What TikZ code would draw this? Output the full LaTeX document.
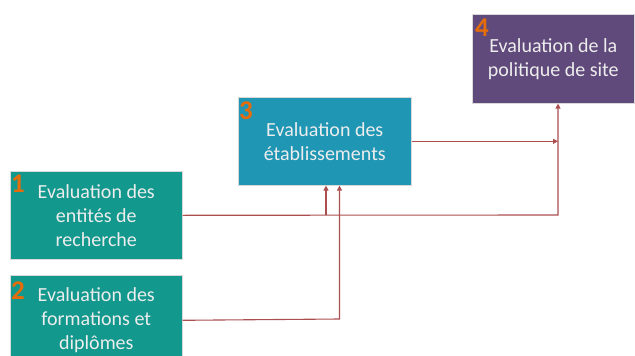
\documentclass[tikz,border=0pt]{standalone}
\usepackage{fontspec}
\setmainfont{Carlito}
\usetikzlibrary{arrows.meta}
\definecolor{tealbox}{RGB}{18,152,141}
\definecolor{bluebox}{RGB}{31,150,180}
\definecolor{purplebox}{RGB}{96,74,123}
\definecolor{numorange}{RGB}{228,108,10}
\definecolor{connred}{RGB}{170,78,78}
\begin{document}
\begin{tikzpicture}[x=1pt,y=-1pt,
  box/.style={draw=white!85!black, line width=0.6pt, anchor=north west, inner sep=0pt,
    text=white!93!black, font=\fontsize{20}{24}\selectfont, align=center},
  num/.style={anchor=base west, inner sep=0pt, text=numorange,
    font=\fontsize{27}{27}\selectfont\bfseries},
  conn/.style={draw=connred, line width=1.1pt},
  arr/.style={conn, -{Triangle[length=5pt,width=5pt]}}]
\useasboundingbox (0,0) rectangle (635,356);
\node[box, fill=tealbox, minimum width=172pt, minimum height=88pt] (b1) at (10,171) {Evaluation des\\entités de\\recherche};
\node[box, fill=tealbox, minimum width=172pt, minimum height=90pt] (b2) at (10,275) {Evaluation des\\formations et\\diplômes};
\node[box, fill=bluebox, minimum width=173pt, minimum height=88pt] (b3) at (238,97) {Evaluation des\\établissements};
\node[box, fill=purplebox, minimum width=162pt, minimum height=89pt] (b4) at (472,14) {Evaluation de la\\politique de site};
\node[num] (n1) at (11,192) {1};
\node[num] (n2) at (11,299) {2};
\node[num] (n3) at (239,119) {3};
\node[num] (n4) at (475,36) {4};
\coordinate (j1) at (558,215);
\coordinate (v1) at (326,215);
\coordinate (v2) at (339.5,319);
\draw[arr] (b1.east) -- (j1) -- (j1 |- b4.south);
\draw[arr] (v1) -- (v1 |- b3.south);
\draw[arr] (b2.east) -- (v2) -- (v2 |- b3.south);
\draw[arr] (b3.east) -- (b3.east -| j1);
\end{tikzpicture}
\end{document}
